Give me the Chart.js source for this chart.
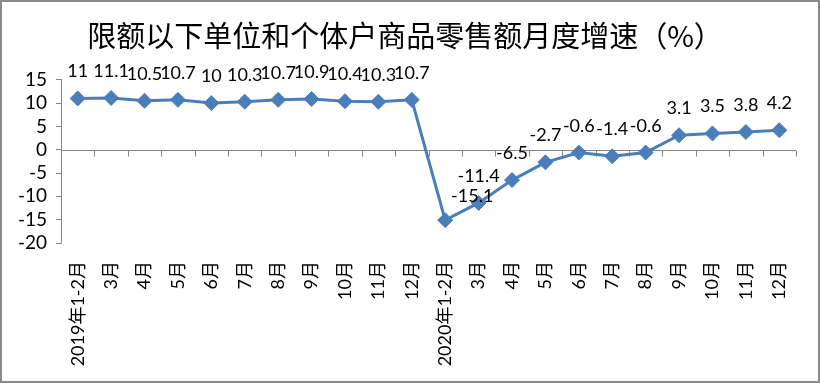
<!DOCTYPE html>
<html>
<head>
<meta charset="utf-8">
<script src="https://cdn.jsdelivr.net/npm/chart.js@4"></script>
<style>
  html, body { margin: 0; padding: 0; background: #fff; }
  #wrap { width: 820px; height: 383px; box-sizing: border-box; border: 2px solid #8a8a8a; background: #fff; }
  canvas { display: block; }
</style>
</head>
<body>
<div id="wrap"><canvas id="c" width="816" height="379"></canvas></div>
<script>
const titleText = '限额以下单位和个体户商品零售额月度增速（%）';
const categories = ['2019年1-2月','3月','4月','5月','6月','7月','8月','9月','10月','11月','12月',
                    '2020年1-2月','3月','4月','5月','6月','7月','8月','9月','10月','11月','12月'];
const growth = [11, 11.1, 10.5, 10.7, 10, 10.3, 10.7, 10.9, 10.4, 10.3, 10.7,
                -15.1, -11.4, -6.5, -2.7, -0.6, -1.4, -0.6, 3.1, 3.5, 3.8, 4.2];
const yMin = -20, yMax = 15, yStep = 5;

const BLUE = '#4A7EBB';
const AXIS = '#868686';
const LATIN = 'Lato, "Noto Sans CJK SC", sans-serif';

// zero line with category-boundary tick marks, drawn from the scales
const zeroAxis = {
  id: 'zeroAxis',
  beforeDatasetsDraw(chart) {
    const x = chart.scales.x, y = chart.scales.y, ctx = chart.ctx;
    const y0 = Math.round(y.getPixelForValue(0)) + 0.5;
    const step = x.getPixelForValue(1) - x.getPixelForValue(0);
    ctx.save();
    ctx.strokeStyle = AXIS; ctx.lineWidth = 1;
    ctx.beginPath();
    ctx.moveTo(chart.chartArea.left, y0);
    ctx.lineTo(chart.chartArea.right, y0);
    for (let i = 0; i <= categories.length; i++) {
      const px = Math.round(x.getPixelForValue(i) - step / 2) + 0.5;
      ctx.moveTo(px, y0);
      ctx.lineTo(px, y0 + 6);
    }
    ctx.stroke();
    ctx.restore();
  }
};

// value labels above points
const labelNudge = { 11: [27, 3] };
const valueLabels = {
  id: 'valueLabels',
  afterDatasetsDraw(chart) {
    const ctx = chart.ctx;
    const meta = chart.getDatasetMeta(0);
    ctx.save();
    ctx.font = '18px ' + LATIN;
    ctx.fillStyle = '#000';
    ctx.textAlign = 'center';
    ctx.textBaseline = 'alphabetic';
    meta.data.forEach((pt, i) => {
      const n = labelNudge[i] || [0, 0];
      ctx.fillText(String(growth[i]), pt.x + n[0], pt.y - 21 + n[1]);
    });
    ctx.restore();
  }
};

new Chart(document.getElementById('c'), {
  type: 'line',
  data: {
    labels: categories,
    datasets: [{
      data: growth,
      borderColor: BLUE,
      backgroundColor: BLUE,
      borderWidth: 3,
      pointStyle: 'rectRot',
      pointRadius: 7.5,
      pointBorderWidth: 1,
      pointBackgroundColor: BLUE,
      pointBorderColor: BLUE,
      tension: 0,
      clip: false
    }]
  },
  options: {
    responsive: false,
    animation: false,
    layout: { padding: { left: 12, right: 22, top: 0, bottom: 0 } },
    plugins: {
      legend: { display: false },
      tooltip: { enabled: false },
      title: {
        display: true,
        text: titleText,
        color: '#000',
        font: { family: '"Noto Sans CJK SC", sans-serif', size: 29, weight: 'normal' },
        padding: { top: 17, bottom: 26 }
      }
    },
    scales: {
      x: {
        type: 'category',
        offset: true,
        grid: { display: false },
        border: { display: false },
        ticks: {
          color: '#000',
          font: { family: LATIN, size: 18 },
          minRotation: 90,
          maxRotation: 90,
          autoSkip: false,
          padding: 10
        },
        afterFit(scale) { scale.height = 138; }
      },
      y: {
        min: yMin,
        max: yMax,
        grid: { display: true, drawOnChartArea: false, drawTicks: true, tickLength: 5, color: AXIS },
        border: { display: true, color: AXIS, width: 1 },
        ticks: { color: '#000', font: { family: LATIN, size: 19 }, padding: 9, stepSize: yStep, autoSkip: false },
        afterFit(scale) { scale.width = 47; }
      }
    }
  },
  plugins: [zeroAxis, valueLabels]
});
</script>
</body>
</html>
